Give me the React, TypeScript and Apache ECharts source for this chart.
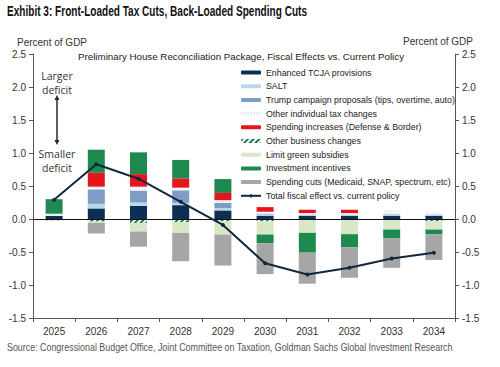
import React, { useEffect, useRef } from "react";
import * as echarts from "echarts";

const years = ["2025", "2026", "2027", "2028", "2029", "2030", "2031", "2032", "2033", "2034"];
const tcja = [0.05, 0.16, 0.2, 0.21, 0.13, 0.05, 0.05, 0.05, 0.05, 0.05];
const salt = [0, 0.07, 0.05, 0.035, 0.035, 0.02, 0.01, 0.01, 0.03, 0.02];
const trump = [0, 0.22, 0.18, 0.19, 0.08, 0.01, 0, 0, 0, 0];
const otherIndiv = [0.03, 0.04, 0.06, 0.04, 0.04, 0.03, 0.03, 0.03, 0.05, 0.04];
const spendInc = [0, 0.21, 0.19, 0.14, 0.11, 0.07, 0.05, 0.05, 0, 0];
const otherBiz = [-0.02, -0.04, -0.06, -0.05, -0.035, -0.035, -0.02, -0.02, -0.02, -0.03];
const limitGreen = [0, -0.02, -0.13, -0.16, -0.2, -0.2, -0.19, -0.21, -0.14, -0.13];
const invest = [0.22, 0.35, 0.33, 0.28, 0.21, -0.13, -0.3, -0.2, -0.13, -0.07];
const cuts = [0, -0.16, -0.23, -0.43, -0.47, -0.47, -0.47, -0.46, -0.45, -0.39];
const total = [0.29, 0.83, 0.61, 0.26, -0.09, -0.67, -0.84, -0.74, -0.6, -0.51];
const yTicks = { min: -1.5, max: 2.5, interval: 0.5 };

const names = [
  "Enhanced TCJA provisions",
  "SALT",
  "Trump campaign proposals (tips, overtime, auto)",
  "Other individual tax changes",
  "Spending increases (Defense & Border)",
  "Other business changes",
  "Limit green subsidies",
  "Investment incentives",
  "Spending cuts (Medicaid, SNAP, spectrum, etc)",
  "Total fiscal effect vs. current policy",
];

const TITLE = "Exhibit 3: Front-Loaded Tax Cuts, Back-Loaded Spending Cuts";
const SOURCE =
  "Source: Congressional Budget Office, Joint Committee on Taxation, Goldman Sachs Global Investment Research";

function measure(text: string, font: string): number {
  const c = document.createElement("canvas").getContext("2d");
  if (!c) return 1;
  c.font = font;
  return c.measureText(text).width || 1;
}

export default function App() {
  const ref = useRef<HTMLDivElement>(null);
  useEffect(() => {
    document.body.style.margin = "0";
    if (!ref.current) return;
    const chart = echarts.init(ref.current, null, { renderer: "svg" });
    const bar = (name: string, data: number[], itemStyle: any) => ({
      name,
      type: "bar",
      stack: "s",
      barWidth: 17,
      data,
      itemStyle,
    });
    const font = "'Liberation Sans', Arial, sans-serif";
    const titleFont = "bold 14px " + font;
    const sourceFont = "10px " + font;
    const titleScale = 300 / measure(TITLE, titleFont);
    const sourceScale = 446 / measure(SOURCE, sourceFont);
    const axisCommon = {
      type: "value",
      min: yTicks.min,
      max: yTicks.max,
      interval: yTicks.interval,
      splitLine: { show: false },
      axisLine: { show: true, lineStyle: { color: "#555", width: 1 } },
      axisTick: { show: true, length: 4, lineStyle: { color: "#555" } },
      axisLabel: {
        color: "#333",
        fontSize: 10,
        fontFamily: font,
        margin: 7,
        formatter: (v: number) => v.toFixed(1),
      },
    };
    chart.setOption({
      animation: false,
      backgroundColor: "#ffffff",
      textStyle: { fontFamily: font },
      grid: { left: 33, right: 45, top: 54, bottom: 49 },
      legend: {
        orient: "vertical",
        left: 235,
        top: 62,
        itemWidth: 20,
        itemHeight: 4,
        itemGap: 2.7,
        textStyle: { fontSize: 8.8, color: "#222", lineHeight: 11, fontFamily: font },
        data: names,
      },
      xAxis: {
        type: "category",
        data: years,
        axisLine: { onZero: false, lineStyle: { color: "#555" } },
        axisTick: { show: true, length: 4, lineStyle: { color: "#555" } },
        axisLabel: { color: "#333", fontSize: 10, fontFamily: font, margin: 8 },
      },
      yAxis: [
        { ...axisCommon, position: "left" },
        { ...axisCommon, position: "right" },
      ],
      series: [
        bar(names[0], tcja, { color: "#0d2f55" }),
        bar(names[1], salt, { color: "#bcd7ec" }),
        bar(names[2], trump, { color: "#7d9dc6" }),
        bar(names[3], otherIndiv, {
          color: "#ffffff",
          decal: {
            symbol: "circle",
            symbolSize: 0.6,
            dashArrayX: [2, 1],
            dashArrayY: [2, 1],
            color: "#9fb4c8",
            backgroundColor: "#ffffff",
          },
        }),
        bar(names[4], spendInc, { color: "#e8141b" }),
        bar(names[5], otherBiz, {
          color: "#ffffff",
          decal: {
            symbol: "rect",
            symbolSize: 1,
            dashArrayX: [1, 0],
            dashArrayY: [1.5, 1.5],
            rotation: -Math.PI / 4,
            color: "#1f7a4d",
            backgroundColor: "#ffffff",
          },
        }),
        bar(names[6], limitGreen, { color: "#d8e8c6" }),
        bar(names[7], invest, { color: "#1e8a50" }),
        {
          ...bar(names[8], cuts, { color: "#a6a6a6" }),
          markLine: {
            silent: true,
            symbol: ["none", "none"],
            label: { show: false },
            lineStyle: { color: "#111", width: 1, type: "solid" },
            data: [{ yAxis: 0 }],
          },
        },
        {
          name: names[9],
          type: "line",
          data: total,
          symbol: "circle",
          symbolSize: 4,
          lineStyle: { color: "#13283d", width: 2 },
          itemStyle: { color: "#13283d" },
          z: 5,
        },
      ],
      graphic: [
        {
          type: "text",
          x: 7,
          y: 4,
          scaleX: titleScale,
          style: { text: TITLE, font: titleFont, fill: "#111" },
        },
        {
          type: "text",
          left: 17,
          top: 37,
          style: { text: "Percent of GDP", font: "10px " + font, fill: "#333" },
        },
        {
          type: "text",
          right: 27,
          top: 36,
          style: { text: "Percent of GDP", font: "10px " + font, fill: "#333" },
        },
        {
          type: "text",
          left: 78,
          top: 51,
          style: {
            text: "Preliminary House Reconciliation Package, Fiscal Effects vs. Current Policy",
            font: "9.75px " + font,
            fill: "#222",
          },
        },
        {
          type: "text",
          x: 57,
          y: 69,
          style: {
            text: "Larger\ndeficit",
            font: "10.5px 'Open Sans', sans-serif",
            lineHeight: 14,
            fill: "#333",
            align: "center",
          },
        },
        {
          type: "text",
          x: 57,
          y: 147,
          style: {
            text: "Smaller\ndeficit",
            font: "10.5px 'Open Sans', sans-serif",
            lineHeight: 14,
            fill: "#333",
            align: "center",
          },
        },
        {
          type: "rect",
          shape: { x: 56.25, y: 99, width: 1.5, height: 42 },
          style: { fill: "#1a2a3a" },
        },
        {
          type: "polygon",
          shape: { points: [[54.5, 100], [59.5, 100], [57, 95]] },
          style: { fill: "#1a2a3a" },
        },
        {
          type: "polygon",
          shape: { points: [[54.5, 140], [59.5, 140], [57, 145]] },
          style: { fill: "#1a2a3a" },
        },
        {
          type: "text",
          x: 7,
          y: 342,
          scaleX: sourceScale,
          style: { text: SOURCE, font: sourceFont, fill: "#555" },
        },
      ],
    });
    return () => chart.dispose();
  }, []);
  return <div ref={ref} style={{ width: 500, height: 367 }} />;
}
